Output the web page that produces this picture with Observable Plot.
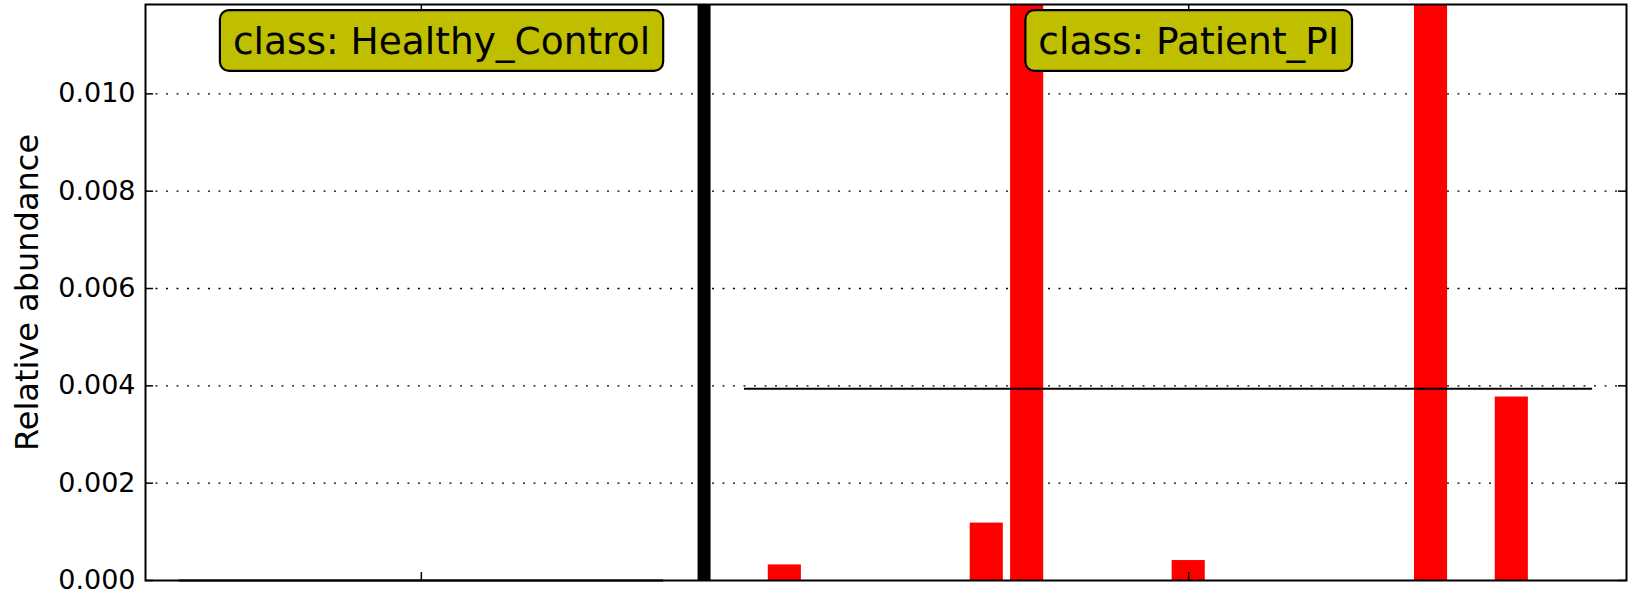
<!DOCTYPE html>
<html>
<head>
<meta charset="utf-8">
<script src="https://cdn.jsdelivr.net/npm/d3@7"></script>
<script src="https://cdn.jsdelivr.net/npm/@observablehq/plot@0.6"></script>
<style>
  html, body { margin: 0; padding: 0; background: #fff; }
  #chart svg { display: block; }
</style>
</head>
<body>
<div id="chart"></div>
<script>
// ---- data ----
const classNames = ["Healthy_Control", "Patient_PI"];
const healthyValues = [0, 0, 0, 0, 0, 0, 0, 0, 0, 0, 0, 0, 0];
const patientValues = [0, 0.00032, 0, 0, 0, 0, 0.00118, 0.042, 0, 0, 0, 0.00041,
                       0, 0, 0, 0, 0, 0.039, 0, 0.00377, 0, 0];
const classMeans = [0, 0.00394];
const yTicks = [0, 0.002, 0.004, 0.006, 0.008, 0.010];
const gridTicks = [0.002, 0.004, 0.006, 0.008, 0.010];
const yLabel = "Relative abundance";

// ---- layout ----
const W = 1633, H = 593;
const mL = 145, mR = 7, mT = 4, mB = 13;
const innerW = W - mL - mR, innerH = H - mT - mB;

// sample index positions: class 0 at 0..12, separator slot, class 1 after
const classValues = [healthyValues, patientValues];
const samples = [];
const means = [];
const sepPositions = [];
const tickPositions = [];
const labelPositions = [];
let offset = 0;
classValues.forEach((vals, c) => {
  vals.forEach((v, j) => samples.push({cls: classNames[c], i: offset + j, value: v}));
  means.push({x1: offset, x2: offset + vals.length - 1, mean: classMeans[c]});
  const mid = offset + (vals.length - 1) / 2;
  tickPositions.push(Math.round(mid));
  labelPositions.push({name: classNames[c], x: c === 0 ? mid + 0.5 : Math.round(mid)});
  offset += vals.length;
  if (c < classValues.length - 1) { sepPositions.push(offset); offset += 1; }
});

const chart = Plot.plot({
  width: W, height: H,
  marginLeft: mL, marginRight: mR, marginTop: mT, marginBottom: mB,
  x: {domain: [-0.83, 35.84], axis: null},
  y: {domain: [0, 0.011836], axis: null},
  style: {fontFamily: "DejaVu Sans", background: "white", color: "black", overflow: "visible"},
  marks: [
    Plot.ruleY(gridTicks, {stroke: "black", strokeWidth: 1.3, strokeDasharray: "2,8.5"}),
    Plot.rect(samples, {x1: d => d.i - 0.41, x2: d => d.i + 0.41, y1: 0, y2: "value", fill: "#ff0000", clip: true}),
    Plot.ruleY(means, {y: "mean", x1: "x1", x2: "x2", stroke: "black", strokeWidth: 2.2}),
    Plot.ruleX(sepPositions, {stroke: "black", strokeWidth: 13}),
    Plot.frame({stroke: "black", strokeWidth: 2}),
    Plot.ruleY(yTicks, {insetRight: innerW - 8, stroke: "black", strokeWidth: 1.5}),
    Plot.ruleY(yTicks, {insetLeft: innerW - 8, stroke: "black", strokeWidth: 1.5}),
    Plot.ruleX(tickPositions, {insetTop: innerH - 8, stroke: "black", strokeWidth: 1.5}),
    Plot.ruleX(tickPositions, {insetBottom: innerH - 8, stroke: "black", strokeWidth: 1.5}),
    Plot.text(yTicks, {y: d => d, text: d => d3.format(".3f")(d), frameAnchor: "left",
      textAnchor: "end", dx: -10, fontSize: 27, fill: "black"}),
    Plot.text([yLabel], {frameAnchor: "left", textAnchor: "middle", lineAnchor: "middle",
      rotate: -90, dx: -118, fontSize: 32, fill: "black"}),
    Plot.text(labelPositions, {x: "x", text: d => "class: " + d.name, frameAnchor: "top",
      textAnchor: "middle", dy: 37, lineAnchor: "middle", fontSize: 37.5, fill: "black"})
  ]
});

document.getElementById("chart").appendChild(chart);

// rounded label boxes behind the class labels (sized from the rendered text)
const ns = "http://www.w3.org/2000/svg";
Array.from(chart.querySelectorAll("text"))
  .filter(t => t.textContent.startsWith("class: "))
  .forEach(t => {
    const bb = t.getBBox();
    const r = document.createElementNS(ns, "rect");
    const cy = bb.y + bb.height / 2;
    r.setAttribute("x", bb.x - 13);
    r.setAttribute("width", bb.width + 26);
    r.setAttribute("y", cy - 30.3);
    r.setAttribute("height", 60.6);
    r.setAttribute("rx", 9);
    r.setAttribute("ry", 9);
    r.setAttribute("fill", "#bfbf00");
    r.setAttribute("stroke", "black");
    r.setAttribute("stroke-width", 2.2);
    const tr = t.getAttribute("transform");
    if (tr) r.setAttribute("transform", tr);
    t.parentNode.insertBefore(r, t);
  });
</script>
</body>
</html>
